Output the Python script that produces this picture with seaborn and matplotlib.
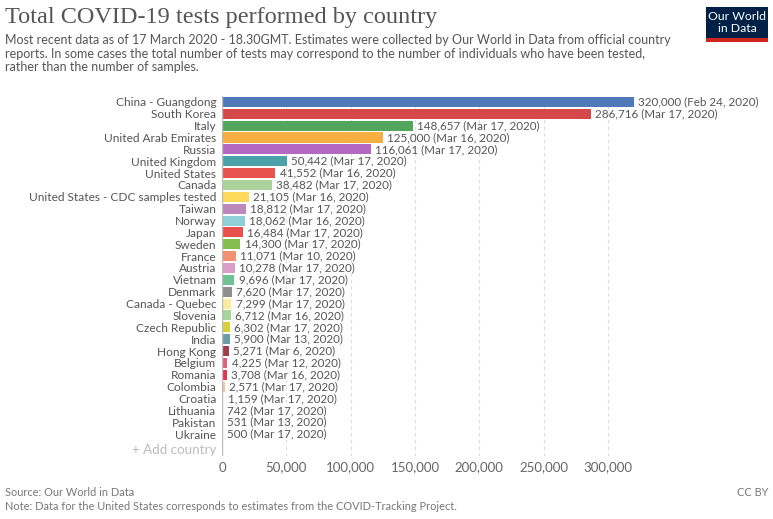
import matplotlib
matplotlib.use("Agg")
import matplotlib.pyplot as plt
import seaborn as sns
import pandas as pd
from matplotlib.patches import Rectangle

countries = ["China - Guangdong", "South Korea", "Italy", "United Arab Emirates", "Russia",
             "United Kingdom", "United States", "Canada", "United States - CDC samples tested",
             "Taiwan", "Norway", "Japan", "Sweden", "France", "Austria", "Vietnam", "Denmark",
             "Canada - Quebec", "Slovenia", "Czech Republic", "India", "Hong Kong", "Belgium",
             "Romania", "Colombia", "Croatia", "Lithuania", "Pakistan", "Ukraine"]
tests = [320000, 286716, 148657, 125000, 116061, 50442, 41552, 38482, 21105, 18812, 18062,
         16484, 14300, 11071, 10278, 9696, 7620, 7299, 6712, 6302, 5900, 5271, 4225, 3708,
         2571, 1159, 742, 531, 500]
dates = ["Feb 24, 2020", "Mar 17, 2020", "Mar 17, 2020", "Mar 16, 2020", "Mar 17, 2020",
         "Mar 17, 2020", "Mar 16, 2020", "Mar 17, 2020", "Mar 16, 2020", "Mar 17, 2020",
         "Mar 16, 2020", "Mar 17, 2020", "Mar 17, 2020", "Mar 10, 2020", "Mar 17, 2020",
         "Mar 17, 2020", "Mar 17, 2020", "Mar 17, 2020", "Mar 16, 2020", "Mar 17, 2020",
         "Mar 13, 2020", "Mar 6, 2020", "Mar 12, 2020", "Mar 16, 2020", "Mar 17, 2020",
         "Mar 17, 2020", "Mar 17, 2020", "Mar 13, 2020", "Mar 17, 2020"]
colors = ["#5079B8", "#D4474A", "#52A55A", "#F7AE43", "#B468C2", "#4AA1A8", "#E9534F",
          "#AAD39B", "#FDD95A", "#BF88BC", "#8FD0D8", "#E8504B", "#82BD4E", "#F39172",
          "#D99FC9", "#6EC193", "#8E8E8E", "#FDEA9E", "#A9D49B", "#D6D13B", "#6D9BA6",
          "#A03F4C", "#E95B7C", "#E5344E", "#FAC59B", "#E38A7A", "#D8D8D8", "#F2B09A",
          "#F1A46E"]
xticks = [0, 50000, 100000, 150000, 200000, 250000, 300000]

W, H = 773, 519
sns.set_theme(style="white")
plt.rcParams["font.family"] = ["Lato", "DejaVu Sans"]
fig = plt.figure(figsize=(W / 100, H / 100), dpi=100)

ax_left, ax_right, ax_top, ax_bot = 222, 700, 96, 456
ax = fig.add_axes([ax_left / W, 1 - ax_bot / H, (ax_right - ax_left) / W, (ax_bot - ax_top) / H])

df = pd.DataFrame({"country": countries, "tests": tests})
sns.barplot(data=df, y="country", x="tests", hue="country", palette=colors, legend=False,
            width=0.85, linewidth=0, saturation=1, ax=ax, zorder=3)

# x scale: 300,000 at pixel 608
xmax = 300000 * (ax_right - ax_left) / (608 - ax_left)
ax.set_xlim(0, xmax)
ax.set_ylim(29.85, -0.5)

for x in xticks[1:]:
    ax.axvline(x, color="#dddddd", lw=0.8, ls=(0, (3, 3)), zorder=1)
ax.axvline(0, color="#bbbbbb", lw=1, zorder=4)

ax.set_xticks(xticks)
ax.set_xticklabels([f"{v:,}" for v in xticks], fontsize=9.5, color="#666666")
ax.tick_params(axis="x", length=0, pad=4)
ax.tick_params(axis="y", length=0, pad=4, labelsize=8.6, labelcolor="#555555")
ax.set_xlabel("")
ax.set_ylabel("")
for s in ax.spines.values():
    s.set_visible(False)

for i, (v, d) in enumerate(zip(tests, dates)):
    ax.annotate(f"{v:,} ({d})", (v, i), xytext=(3, 0), textcoords="offset points",
                va="center", ha="left", fontsize=8.4, color="#555555")

ax.annotate("+ Add country", (0, 29.35), xytext=(-4, 0), textcoords="offset points",
            va="center", ha="right", fontsize=9.6, color="#bbbbbb")

# Title & subtitle
fig.text(5 / W, 1 - 18 / H, "Total COVID-19 tests performed by country",
         family=["Liberation Serif", "DejaVu Serif"], fontsize=17.5, color="#555555", va="center")
fig.text(5 / W, 1 - 34 / H,
         "Most recent data as of 17 March 2020 - 18.30GMT. Estimates were collected by Our World in Data from official country\n"
         "reports. In some cases the total number of tests may correspond to the number of individuals who have been tested,\n"
         "rather than the number of samples.",
         fontsize=9.0, color="#555555", va="top", linespacing=1.15)

# Logo
fig.patches.append(Rectangle((706 / W, 1 - 42 / H), 62 / W, 35 / H, transform=fig.transFigure,
                             facecolor="#002147", edgecolor="none"))
fig.patches.append(Rectangle((706 / W, 1 - 42 / H), 62 / W, 4 / H, transform=fig.transFigure,
                             facecolor="#CE261E", edgecolor="none"))
fig.text(737 / W, 1 - 22.5 / H, "Our World\nin Data", ha="center", va="center",
         fontsize=8.8, color="white", linespacing=1.0)

# Footer
fig.text(5 / W, 1 - 493 / H, "Source: Our World in Data", fontsize=7.9, color="#777777", va="center")
fig.text(5 / W, 1 - 506 / H,
         "Note: Data for the United States corresponds to estimates from the COVID-Tracking Project.",
         fontsize=7.9, color="#777777", va="center")
fig.text(768 / W, 1 - 493 / H, "CC BY", fontsize=7.9, color="#777777", va="center", ha="right")

fig.savefig("out.png", dpi=100)
